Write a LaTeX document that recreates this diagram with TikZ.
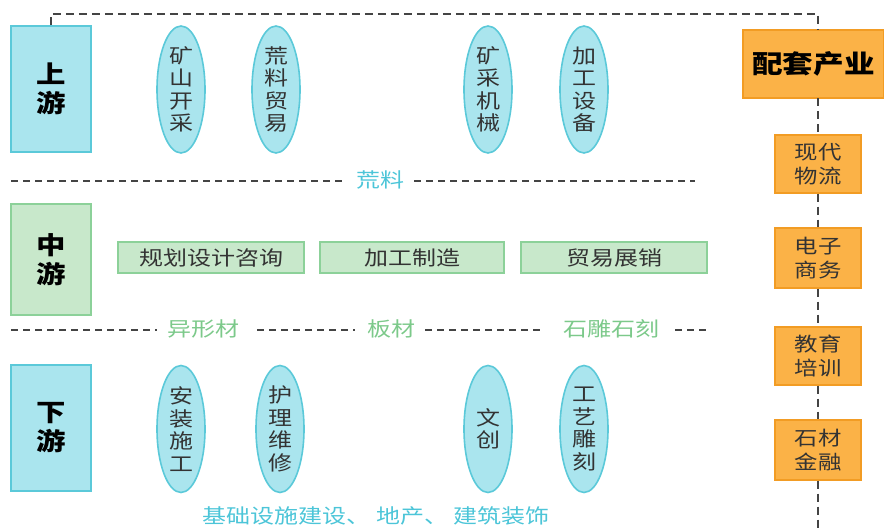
\documentclass[tikz,border=0pt]{standalone}
\usepackage{fontspec}
\setmainfont{Noto Sans CJK SC}[FakeStretch=1.2]
\usetikzlibrary{shapes.geometric}
\definecolor{cyf}{HTML}{AAE5EE}
\definecolor{cyd}{HTML}{5BC9D9}
\definecolor{grf}{HTML}{C8E8CB}
\definecolor{grd}{HTML}{8CD199}
\definecolor{orf}{HTML}{FBB247}
\definecolor{ord}{HTML}{F29C24}
\definecolor{grt}{HTML}{7CC98A}
\definecolor{cyt}{HTML}{4CC5D8}
\definecolor{dk}{HTML}{444444}
\definecolor{txt}{HTML}{333333}
\begin{document}
\begin{tikzpicture}[x=1pt,y=-1pt,
  lvlbox/.style={draw=#1d, fill=#1f, line width=1.6pt, minimum width=80pt, align=center, inner sep=0pt,
    font=\fontsize{24.5}{29}\selectfont\bfseries, text=black},
  ell/.style={ellipse, draw=cyd, fill=cyf, line width=1.6pt, minimum width=48pt, minimum height=127pt,
    inner sep=0pt, align=center, font=\fontsize{20}{22.5}\selectfont, text=txt},
  midbox/.style={draw=grd, fill=grf, line width=1.6pt, minimum height=31pt, inner sep=0pt,
    font=\fontsize{20}{24}\selectfont, text=txt},
  orbox/.style={draw=ord, fill=orf, line width=1.2pt, minimum width=86pt, inner sep=0pt, align=center,
    font=\fontsize{19.5}{23.5}\selectfont, text=txt},
  frame/.style={draw=dk, line width=2.6pt, dash pattern=on 8pt off 5pt},
  sep/.style={draw=dk, line width=2.1pt, dash pattern=on 7pt off 5pt},
  lab/.style={inner sep=0pt, font=\fontsize{20}{24}\selectfont}
]
\useasboundingbox (0,0) rectangle (884,530);

% level boxes
\node[lvlbox=cy, minimum height=126pt] (up) at (51,89) {上\\游};
\node[lvlbox=gr, minimum height=111pt] (mid) at (51,259.5) {中\\游};
\node[lvlbox=cy, minimum height=126pt] (down) at (51,428) {下\\游};

% upstream ellipses
\node[ell] (e1) at (181,89.5) {矿\\山\\开\\采};
\node[ell] (e2) at (276,89.5) {荒\\料\\贸\\易};
\node[ell] (e3) at (488,89.5) {矿\\采\\机\\械};
\node[ell] (e4) at (584,89.5) {加\\工\\设\\备};

% midstream boxes
\node[midbox, minimum width=186pt] (m1) at (211,257.5) {规划设计咨询};
\node[midbox, minimum width=184pt] (m2) at (412,257.5) {加工制造};
\node[midbox, minimum width=186pt] (m3) at (614,257.5) {贸易展销};

% downstream ellipses
\node[ell] (f1) at (181,429) {安\\装\\施\\工};
\node[ell] (f2) at (280,429) {护\\理\\维\\修};
\node[ell] (f3) at (488,429) {文\\创};
\node[ell] (f4) at (584,429) {工\\艺\\雕\\刻};

% separator 1
\node[lab, text=cyt] (l1) at (380,180) {荒料};
\coordinate (s1a) at (11,181);
\coordinate (s1b) at (695,181);
\draw[sep] (s1a) -- ([xshift=-12pt]l1.west |- s1a);
\draw[sep] ([xshift=10pt]l1.east |- s1a) -- (s1b);

% separator 2
\node[lab, text=grt] (l2) at (203,329) {异形材};
\node[lab, text=grt] (l3) at (391,329) {板材};
\node[lab, text=grt] (l4) at (611,329) {石雕石刻};
\coordinate (s2a) at (11,330);
\coordinate (s2b) at (707,330);
\draw[sep] (s2a) -- ([xshift=-10pt]l2.west |- s2a);
\draw[sep] ([xshift=18pt]l2.east |- s2a) -- ([xshift=-12pt]l3.west |- s2a);
\draw[sep] ([xshift=10pt]l3.east |- s2a) -- ([xshift=-18pt]l4.west |- s2a);
\draw[sep] ([xshift=16pt]l4.east |- s2a) -- (s2b);

% bottom text
\node[inner sep=0pt, text=cyt, font=\fontsize{20}{24}\selectfont] (bt) at (376,516) {基础设施建设、 地产、 建筑装饰};

% supporting industries
\node[draw=ord, fill=orf, line width=1.2pt, minimum width=141pt, minimum height=68pt, inner sep=0pt,
  font=\fontsize{25.5}{30}\selectfont\bfseries, text=black] (pt) at (813.5,64) {配套产业};
\node[orbox, minimum height=58pt] (o1) at (818,164) {现代\\物流};
\node[orbox, minimum height=60pt] (o2) at (818,258) {电子\\商务};
\node[orbox, minimum height=58pt] (o3) at (818,356) {教育\\培训};
\node[orbox, minimum height=60pt] (o4) at (818,450) {石材\\金融};

% dashed frame
\coordinate (c1) at (51,14);
\coordinate (c2) at (818,14);
\coordinate (c3) at (818,30);
\coordinate (c4) at (818,98);
\coordinate (cend) at (818,530);
\draw[frame] (up.north) -- (c1) -- (c2) -- (c3);
\draw[frame] (c4) -- (o1.north);
\draw[frame] (o1.south) -- (o2.north);
\draw[frame] (o2.south) -- (o3.north);
\draw[frame] (o3.south) -- (o4.north);
\draw[frame] (o4.south) -- (cend);
\end{tikzpicture}
\end{document}
